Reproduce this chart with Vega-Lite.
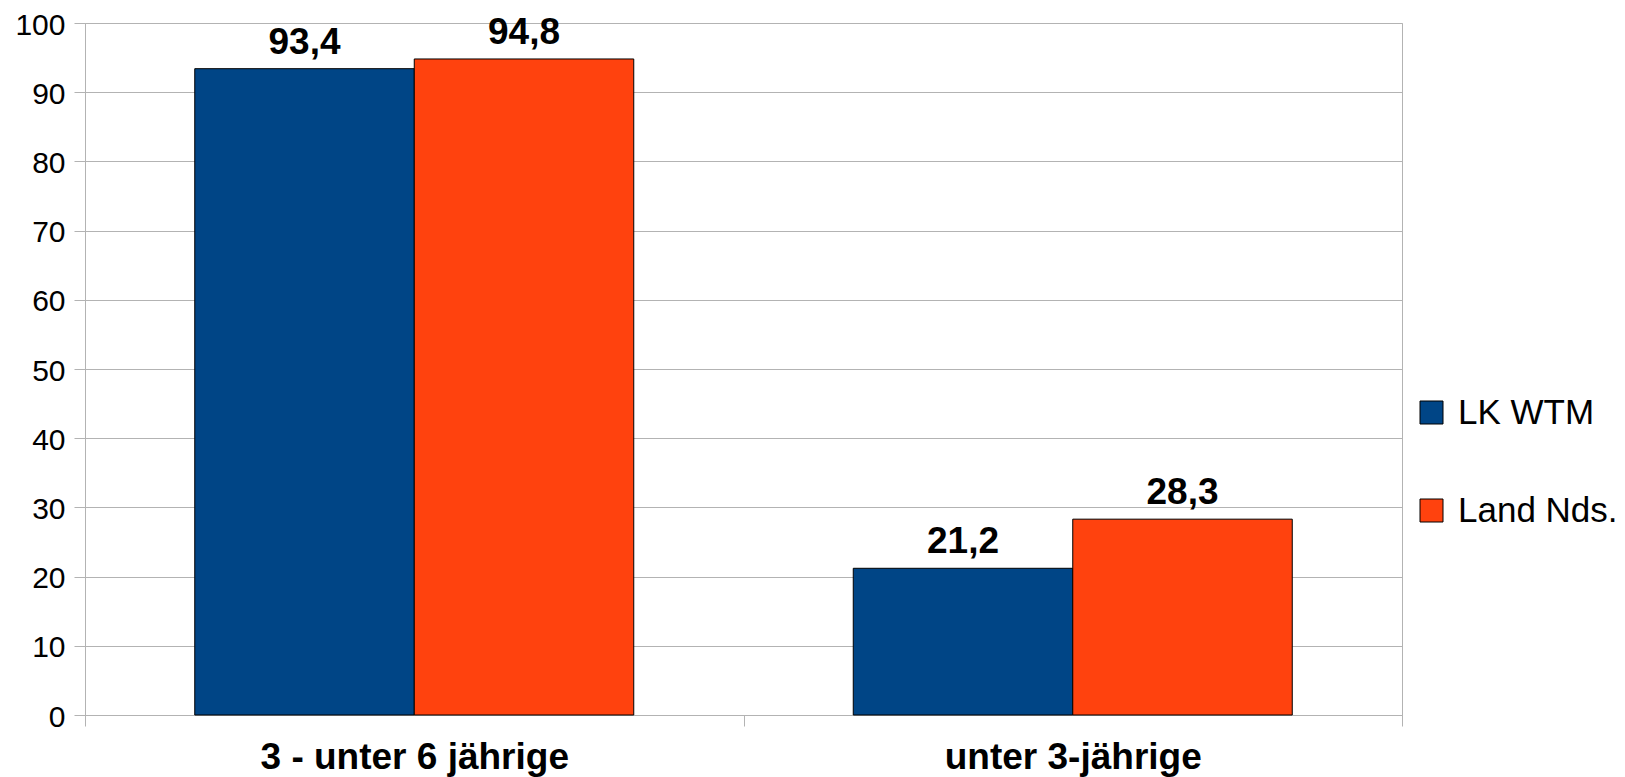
{
  "$schema": "https://vega.github.io/schema/vega-lite/v6.json",
  "width": 1317,
  "height": 692,
  "autosize": {"type": "none"},
  "padding": {"left": 85, "top": 23, "right": 223, "bottom": 62},
  "background": "white",
  "config": {
    "font": "Liberation Sans",
    "locale": {"number": {"decimal": ",", "thousands": ".", "grouping": [3], "currency": ["", " €"]}},
    "view": {"stroke": "#b3b3b3", "strokeWidth": 1}
  },
  "data": {
    "values": [
      {"Gruppe": "3 - unter 6 jährige", "Gebiet": "LK WTM", "Wert": 93.4},
      {"Gruppe": "3 - unter 6 jährige", "Gebiet": "Land Nds.", "Wert": 94.8},
      {"Gruppe": "unter 3-jährige", "Gebiet": "LK WTM", "Wert": 21.2},
      {"Gruppe": "unter 3-jährige", "Gebiet": "Land Nds.", "Wert": 28.3}
    ]
  },
  "encoding": {
    "x": {
      "field": "Gruppe",
      "type": "nominal",
      "sort": ["3 - unter 6 jährige", "unter 3-jährige"],
      "scale": {"paddingInner": 0, "paddingOuter": 0},
      "axis": {
        "title": null,
        "labelAngle": 0,
        "tickBand": "extent",
        "ticks": true,
        "tickSize": 11,
        "tickColor": "#b3b3b3",
        "domainColor": "#b3b3b3",
        "labelFontSize": 37,
        "labelFontWeight": "bold",
        "labelColor": "black",
        "labelPadding": 13,
        "labelLimit": 0,
        "grid": false
      }
    },
    "xOffset": {
      "field": "Gebiet",
      "type": "nominal",
      "sort": ["LK WTM", "Land Nds."],
      "scale": {"paddingInner": 0, "paddingOuter": 0.5}
    },
    "y": {
      "field": "Wert",
      "type": "quantitative",
      "scale": {"domain": [0, 100], "nice": false},
      "axis": {
        "title": null,
        "values": [0, 10, 20, 30, 40, 50, 60, 70, 80, 90, 100],
        "tickSize": 11,
        "tickColor": "#b3b3b3",
        "gridColor": "#b3b3b3",
        "domainColor": "#b3b3b3",
        "labelFontSize": 30,
        "labelColor": "black",
        "labelPadding": 9,
        "labelOffset": 2,
        "format": "d"
      }
    }
  },
  "layer": [
    {
      "mark": {"type": "bar", "stroke": "black", "strokeWidth": 1},
      "encoding": {
        "fill": {
          "field": "Gebiet",
          "type": "nominal",
          "sort": ["LK WTM", "Land Nds."],
          "scale": {"domain": ["LK WTM", "Land Nds."], "range": ["#004586", "#ff420e"]},
          "legend": {
            "title": null,
            "orient": "none",
            "legendX": 1329,
            "legendY": 372,
            "padding": 0,
            "direction": "vertical",
            "symbolType": "square",
            "symbolSize": 529,
            "symbolStrokeColor": "black",
            "symbolStrokeWidth": 1,
            "symbolOpacity": 1,
            "labelFontSize": 35,
            "labelColor": "black",
            "labelOffset": 9,
            "labelLimit": 0,
            "rowPadding": 62
          }
        }
      }
    },
    {
      "mark": {"type": "text", "fontSize": 37, "fontWeight": "bold", "color": "black", "baseline": "alphabetic", "dy": -15},
      "encoding": {
        "text": {"field": "Wert", "type": "quantitative", "format": ".1f"}
      }
    }
  ]
}
